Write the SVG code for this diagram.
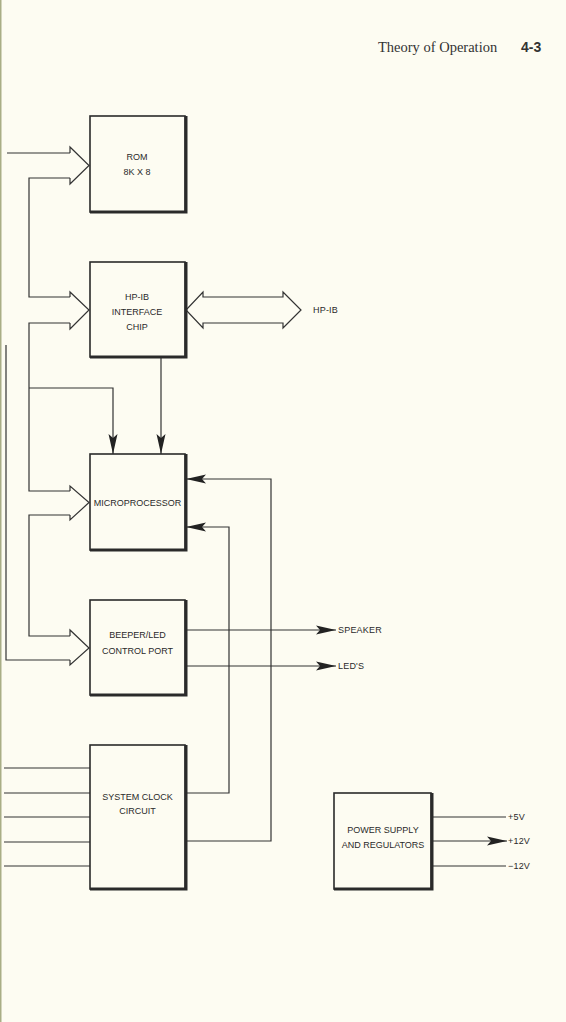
<svg xmlns="http://www.w3.org/2000/svg" width="566" height="1022" viewBox="0 0 566 1022">
<style>
.box{fill:none;stroke:#2a2a2a;stroke-width:1.6}
.sh{fill:none;stroke:#2a2a2a;stroke-width:3}
.ln{fill:none;stroke:#333;stroke-width:1.2}
.hol{fill:#fdfcf2;stroke:#333;stroke-width:1.2;stroke-linejoin:miter}
.t{font-family:"Liberation Sans",Arial,sans-serif;font-size:9px;fill:#2a2a2a;text-anchor:middle}
.lb{font-family:"Liberation Sans",Arial,sans-serif;font-size:9px;fill:#2a2a2a;letter-spacing:0.2px}
</style>
<defs>
<marker id="ah" viewBox="0 0 20 10" refX="20" refY="5" markerWidth="20" markerHeight="10" markerUnits="userSpaceOnUse" orient="auto">
<path d="M0,0.5 L20,5 L0,9.5 L4,5 Z" fill="#222"/>
</marker>
</defs>
<rect width="566" height="1022" fill="#fdfcf2"/>
<rect x="0" y="0" width="1.5" height="1022" fill="#a9ae86"/>
<text x="378" y="52" font-family="Liberation Serif,serif" font-size="14.5" fill="#333">Theory of Operation</text>
<text x="521" y="52" font-family="Liberation Sans,Arial,sans-serif" font-size="14" font-weight="bold" fill="#333">4-3</text>

<g id="connectors">
<path class="ln" d="M7,153 H70"/>
<path class="ln" d="M70,178 H29 V297 H70"/>
<path class="ln" d="M70,323 H29 V491 H70"/>
<path class="ln" d="M29,388 H113 V454" marker-end="url(#ah)"/>
<path class="ln" d="M161,357 V454" marker-end="url(#ah)"/>
<path class="ln" d="M70,515 H29 V636 H70"/>
<path class="ln" d="M6,345 V660 H70"/>
<path class="hol" d="M70,153 V147 L89,165.5 L70,184 V178"/>
<path class="hol" d="M70,297 V292 L89,310 L70,329 V323"/>
<path class="hol" d="M70,491 V486 L89,502.5 L70,520 V515"/>
<path class="hol" d="M70,636 V630 L89,648 L70,665 V660"/>
<path class="hol" d="M203,297 H283 V292 L301,310 L283,328 V323 H203 V328 L186,310 L203,292 Z"/>
<path class="ln" d="M186,793 H229 V527 H186" marker-end="url(#ah)"/>
<path class="ln" d="M186,841 H271 V479 H186" marker-end="url(#ah)"/>
<path class="ln" d="M186,630 H336" marker-end="url(#ah)"/>
<path class="ln" d="M186,666 H336" marker-end="url(#ah)"/>
<path class="ln" d="M4,768 H90 M4,793 H90 M4,817 H90 M4,842 H90 M4,866 H90"/>
<path class="ln" d="M432,817 H506 M432,866 H506"/>
<path class="ln" d="M432,841 H507" marker-end="url(#ah)"/>
</g>

<g id="rom">
<rect class="box" x="90" y="116" width="95" height="96"/>
<path class="sh" d="M90,212 H186 V116"/>
<text class="t" x="137" y="160">ROM</text>
<text class="t" x="137" y="175">8K X 8</text>
</g>
<g id="hpib">
<rect class="box" x="90" y="262" width="95" height="95"/>
<path class="sh" d="M90,357 H186 V262"/>
<text class="t" x="137" y="300">HP-IB</text>
<text class="t" x="137" y="315">INTERFACE</text>
<text class="t" x="137" y="330">CHIP</text>
</g>
<g id="micro">
<rect class="box" x="90" y="454" width="95" height="96"/>
<path class="sh" d="M90,550 H186 V454"/>
<text class="t" x="137.5" y="505.5">MICROPROCESSOR</text>
</g>
<g id="beeper">
<rect class="box" x="90" y="600" width="95" height="95"/>
<path class="sh" d="M90,695 H186 V600"/>
<text class="t" x="137.5" y="638">BEEPER/LED</text>
<text class="t" x="137.5" y="654">CONTROL PORT</text>
</g>
<g id="clock">
<rect class="box" x="90" y="745" width="95" height="144"/>
<path class="sh" d="M90,889 H186 V745"/>
<text class="t" x="137.5" y="800">SYSTEM  CLOCK</text>
<text class="t" x="137.5" y="814">CIRCUIT</text>
</g>
<g id="power">
<rect class="box" x="334" y="793" width="97" height="96"/>
<path class="sh" d="M334,889 H432 V793"/>
<text class="t" x="383" y="833">POWER SUPPLY</text>
<text class="t" x="383" y="848">AND REGULATORS</text>
</g>
<g id="labels">
<text class="lb" x="313" y="313">HP-IB</text>
<text class="lb" x="338" y="633">SPEAKER</text>
<text class="lb" x="338" y="669">LED'S</text>
<text class="lb" x="508" y="820">+5V</text>
<text class="lb" x="508" y="844">+12V</text>
<text class="lb" x="508" y="869">−12V</text>
</g>
</svg>
